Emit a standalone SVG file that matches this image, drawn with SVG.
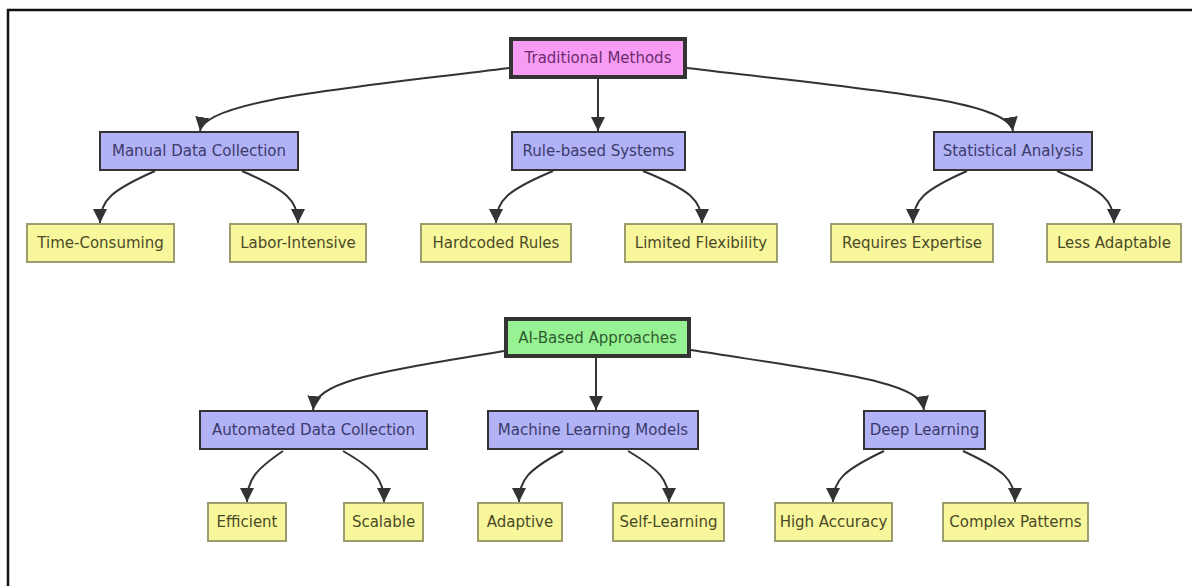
<svg xmlns="http://www.w3.org/2000/svg" width="1192" height="586" viewBox="0 0 1192 586">
<style>
text{font-family:"DejaVu Sans",Verdana,sans-serif;font-size:15px;text-anchor:middle;dominant-baseline:central}
.root rect{stroke:#333;stroke-width:4}
.pink rect{fill:#f79bf4}.pink text{fill:#6e2c6e}
.green rect{fill:#97f293}.green text{fill:#2e5c2e}
.mid rect{fill:#b2b2f7;stroke:#333;stroke-width:2}.mid text{fill:#3b3b6b}
.leaf rect{fill:#f9f79c;stroke:#9c9c6c;stroke-width:2}.leaf text{fill:#4a4a28}
.edges path{fill:none;stroke:#333;stroke-width:2;marker-end:url(#ah)}
</style>
<defs>
<marker id="ah" markerUnits="userSpaceOnUse" viewBox="0 0 10 10" refX="10" refY="5" markerWidth="14" markerHeight="14" orient="auto">
<path d="M0,0 L10,5 L0,10 z" fill="#333"/>
</marker>
</defs>
<rect x="0" y="0" width="1192" height="586" fill="#fff"/>
<rect x="8" y="10" width="1220" height="620" fill="none" stroke="#111" stroke-width="2.5"/>
<g class="edges">
<path d="M509,68 C350,88 205,100 200,131"/>
<path d="M598,79 L598,131"/>
<path d="M687,68 C870,90 1008,100 1013,131"/>
<path d="M155,171 C112,190 100,200 100,223"/>
<path d="M242,171 C286,190 298,200 298,223"/>
<path d="M553,171 C508,190 496,200 496,223"/>
<path d="M643,171 C690,190 702,200 702,223"/>
<path d="M967,171 C924,190 913,200 913,223"/>
<path d="M1057,171 C1102,190 1114,200 1114,223"/>
<path d="M504,351 C380,372 316,380 313,410"/>
<path d="M596,358 L596,410"/>
<path d="M691,350 C850,375 920,382 924,410"/>
<path d="M283,451 C255,470 247,480 247,502"/>
<path d="M343,451 C376,470 384,480 384,502"/>
<path d="M563,451 C528,470 519,480 519,502"/>
<path d="M628,451 C660,470 669,480 669,502"/>
<path d="M884,451 C844,470 833,480 833,502"/>
<path d="M963,451 C1004,470 1015,480 1015,502"/>
</g>
<g id="traditional" class="root pink"><rect x="511" y="39" width="174" height="38"/><text x="598" y="58">Traditional Methods</text></g>
<g id="manual" class="mid"><rect x="100" y="132" width="198" height="38"/><text x="199" y="151">Manual Data Collection</text></g>
<g id="rule" class="mid"><rect x="512" y="132" width="173" height="38"/><text x="598.5" y="151">Rule-based Systems</text></g>
<g id="stat" class="mid"><rect x="934" y="132" width="158" height="38"/><text x="1013" y="151">Statistical Analysis</text></g>
<g id="time" class="leaf"><rect x="27" y="224" width="147" height="38"/><text x="100.5" y="243">Time-Consuming</text></g>
<g id="labor" class="leaf"><rect x="230" y="224" width="136" height="38"/><text x="298" y="243">Labor-Intensive</text></g>
<g id="hard" class="leaf"><rect x="421" y="224" width="150" height="38"/><text x="496" y="243">Hardcoded Rules</text></g>
<g id="limited" class="leaf"><rect x="625" y="224" width="152" height="38"/><text x="701" y="243">Limited Flexibility</text></g>
<g id="requires" class="leaf"><rect x="831" y="224" width="162" height="38"/><text x="912" y="243">Requires Expertise</text></g>
<g id="less" class="leaf"><rect x="1047" y="224" width="134" height="38"/><text x="1114" y="243">Less Adaptable</text></g>
<g id="ai" class="root green"><rect x="506" y="319" width="183" height="37"/><text x="597.5" y="337.5">AI-Based Approaches</text></g>
<g id="auto" class="mid"><rect x="200" y="411" width="227" height="38"/><text x="313.5" y="430">Automated Data Collection</text></g>
<g id="ml" class="mid"><rect x="488" y="411" width="210" height="38"/><text x="593" y="430">Machine Learning Models</text></g>
<g id="deep" class="mid"><rect x="864" y="411" width="121" height="38"/><text x="924.5" y="430">Deep Learning</text></g>
<g id="eff" class="leaf"><rect x="208" y="503" width="78" height="38"/><text x="247" y="522">Efficient</text></g>
<g id="scal" class="leaf"><rect x="344" y="503" width="79" height="38"/><text x="383.5" y="522">Scalable</text></g>
<g id="adapt" class="leaf"><rect x="478" y="503" width="84" height="38"/><text x="520" y="522">Adaptive</text></g>
<g id="self" class="leaf"><rect x="613" y="503" width="111" height="38"/><text x="668.5" y="522">Self-Learning</text></g>
<g id="high" class="leaf"><rect x="775" y="503" width="117" height="38"/><text x="833.5" y="522">High Accuracy</text></g>
<g id="complex" class="leaf"><rect x="943" y="503" width="145" height="38"/><text x="1015.5" y="522">Complex Patterns</text></g>
</svg>
